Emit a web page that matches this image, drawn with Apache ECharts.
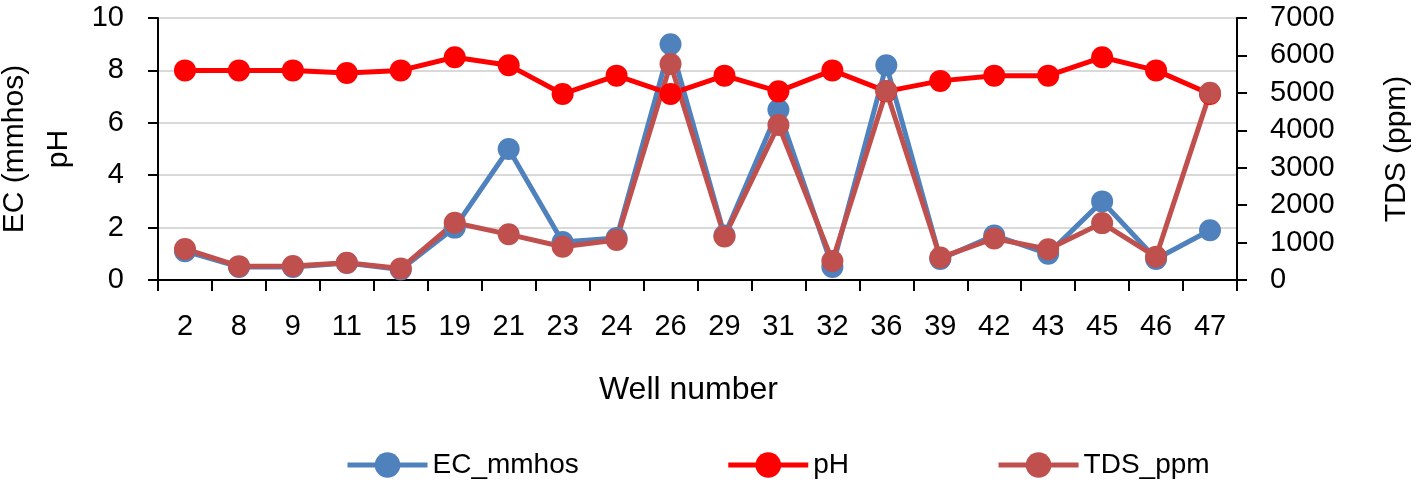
<!DOCTYPE html>
<html>
<head>
<meta charset="utf-8">
<script src="https://cdn.jsdelivr.net/npm/echarts@6/dist/echarts.min.js"></script>
<style>html,body{margin:0;padding:0;background:#fff;}#c{width:1424px;height:484px;}</style>
</head>
<body>
<div id="c"></div>
<script>
const categories = ['2','8','9','11','15','19','21','23','24','26','29','31','32','36','39','42','43','45','46','47'];
const ecValues = [1.1, 0.5, 0.5, 0.65, 0.4, 2.0, 5.0, 1.45, 1.6, 9.0, 1.7, 6.5, 0.5, 8.2, 0.8, 1.7, 1.0, 3.0, 0.8, 1.9];
const phValues = [8.0, 8.0, 8.0, 7.9, 8.0, 8.5, 8.2, 7.1, 7.8, 7.1, 7.8, 7.2, 8.0, 7.2, 7.6, 7.8, 7.8, 8.5, 8.0, 7.1];
const tdsValues = [830, 370, 375, 460, 310, 1530, 1220, 890, 1070, 5770, 1160, 4140, 510, 5050, 600, 1110, 820, 1520, 620, 5000];
const seriesNames = ['EC_mmhos', 'pH', 'TDS_ppm'];
const colors = ['#4f81bd', '#ff0000', '#c0504d'];

const FONT = 'Liberation Sans';
const chart = echarts.init(document.getElementById('c'), null, {renderer: 'canvas'});
const axisLine = {show: true, lineStyle: {color: '#000', width: 2}};
const axisTick = {show: true, inside: false, length: 10, lineStyle: {color: '#000', width: 2}};
const labelStyle = {color: '#000', fontSize: 29, fontFamily: FONT};

function mkSeries(i, data, yIdx) {
  return {
    name: seriesNames[i], type: 'line', data: data, yAxisIndex: yIdx,
    symbol: 'circle', symbolSize: 22, showSymbol: true,
    lineStyle: {color: colors[i], width: 5},
    itemStyle: {color: colors[i]},
    emphasis: {disabled: true},
    animation: false
  };
}

chart.setOption({
  animation: false,
  color: colors,
  grid: {left: 158, right: 187, top: 18, bottom: 204, containLabel: false, outerBoundsMode: 'none'},
  legend: {
    left: 345, top: 451, padding: 0, itemWidth: 80, itemHeight: 32, itemGap: 147,
    lineStyle: {width: 5},
    textStyle: {fontSize: 28, fontFamily: FONT, color: '#000'},
    data: seriesNames
  },
  xAxis: {
    type: 'category', data: categories, boundaryGap: true,
    name: 'Well number', nameLocation: 'middle', nameGap: 94,
    nameTextStyle: {fontSize: 32, fontFamily: FONT, color: '#000', padding: [0, 18, 0, 0]},
    axisLine: axisLine,
    axisTick: {show: true, inside: false, length: 11, alignWithLabel: false, lineStyle: {color: '#000', width: 2}},
    axisLabel: Object.assign({margin: 32, interval: 0}, labelStyle),
    splitLine: {show: false}
  },
  yAxis: [
    {
      type: 'value', min: 0, max: 10, interval: 2, position: 'left',
      name: 'EC (mmhos)\npH', nameLocation: 'middle', nameGap: 77,
      nameTextStyle: {fontSize: 30, fontFamily: FONT, color: '#000', lineHeight: 44},
      axisLine: axisLine, axisTick: axisTick,
      axisLabel: Object.assign({margin: 34}, labelStyle),
      splitLine: {show: true, lineStyle: {color: '#d9d9d9', width: 2}}
    },
    {
      type: 'value', min: 0, max: 7000, interval: 1000, position: 'right',
      name: 'TDS (ppm)', nameLocation: 'middle', nameGap: 145,
      nameTextStyle: {fontSize: 30, fontFamily: FONT, color: '#000'},
      axisLine: axisLine, axisTick: axisTick,
      axisLabel: Object.assign({margin: 33, formatter: function (v) { return String(v); }}, labelStyle),
      splitLine: {show: false}
    }
  ],
  series: [
    mkSeries(0, ecValues, 0),
    mkSeries(1, phValues, 0),
    mkSeries(2, tdsValues, 1)
  ]
});
</script>
</body>
</html>
